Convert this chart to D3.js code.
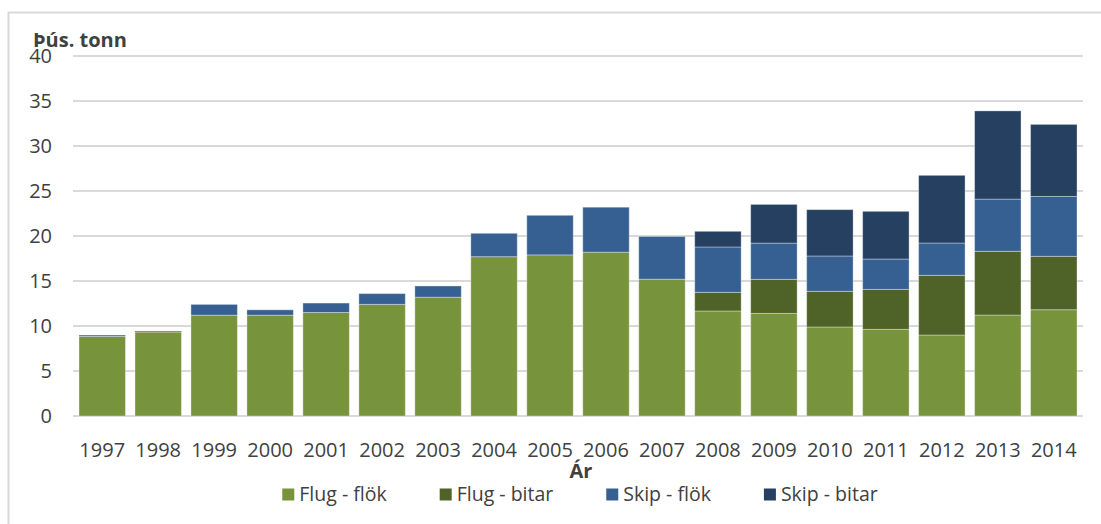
<!DOCTYPE html>
<html>
<head>
<meta charset="utf-8">
<script src="https://cdn.jsdelivr.net/npm/d3@7"></script>
<style>
  html, body { margin: 0; padding: 0; background: #fff; }
  svg { display: block; }
  text { font-family: "Open Sans", "Liberation Sans", sans-serif; fill: #404040; }
</style>
</head>
<body>
<svg id="chart" width="1101" height="524"></svg>
<script>
const years = ["1997","1998","1999","2000","2001","2002","2003","2004","2005","2006","2007","2008","2009","2010","2011","2012","2013","2014"];
const flugFlok  = [8.85, 9.33, 11.2, 11.2, 11.5, 12.4, 13.2, 17.7, 17.9, 18.2, 15.2, 11.67, 11.4, 9.89, 9.63, 9.0, 11.22, 11.81];
const flugBitar = [0, 0, 0, 0, 0, 0, 0, 0, 0, 0, 0, 2.07, 3.78, 3.96, 4.44, 6.63, 7.08, 5.93];
const skipFlok  = [0.15, 0.12, 1.2, 0.6, 1.05, 1.2, 1.25, 2.6, 4.4, 5.0, 4.75, 5.04, 4.03, 3.93, 3.37, 3.59, 5.8, 6.66];
const skipBitar = [0, 0, 0, 0, 0, 0, 0, 0, 0, 0, 0, 1.74, 4.3, 5.15, 5.3, 7.52, 9.8, 8.0];
const seriesNames = ["Flug - flök", "Flug - bitar", "Skip - flök", "Skip - bitar"];
const seriesColors = ["#77933C", "#4F6228", "#376092", "#254061"];
const yTicks = [0, 5, 10, 15, 20, 25, 30, 35, 40];
const yTitle = "Þús. tonn";
const xTitle = "Ár";

(function () {
const seriesValues = [flugFlok, flugBitar, skipFlok, skipBitar];
const table = years.map((yr, i) => {
  const row = { year: yr };
  seriesNames.forEach((n, k) => row[n] = seriesValues[k][i]);
  return row;
});

const svg = d3.select("#chart");
const pLeft = 73, pRight = 1083, pTop = 56, pBottom = 416;

// outer frame
svg.append("rect")
  .attr("x", 8.5).attr("y", 12.5).attr("width", 1200).attr("height", 600)
  .attr("fill", "none").attr("stroke", "#d9d9d9").attr("stroke-width", 2);

const x = d3.scaleBand().domain(years).range([pLeft, pRight]).paddingInner(0.17).paddingOuter(0.107);
const y = d3.scaleLinear().domain([0, 40]).range([pBottom, pTop]);

// gridlines
svg.append("g").selectAll("line").data(yTicks).join("line")
  .attr("x1", pLeft).attr("x2", pRight)
  .attr("y1", d => y(d)).attr("y2", d => y(d))
  .attr("stroke", "#d9d9d9").attr("stroke-width", 2);

// y axis labels
const yAxis = d3.axisLeft(y).tickValues(yTicks).tickSize(0).tickPadding(0);
const gy = svg.append("g").attr("transform", "translate(52,0)").call(yAxis);
gy.select(".domain").remove();
gy.selectAll("text").attr("font-size", 20).attr("fill", "#404040")
  .style("font-family", '"Open Sans", sans-serif');

// stacked bars
const stack = d3.stack().keys(seriesNames)(table);
svg.append("g").selectAll("g").data(stack).join("g")
  .attr("fill", (d, i) => seriesColors[i])
  .selectAll("rect").data(d => d.filter(s => s[1] - s[0] > 0)).join("rect")
  .attr("x", d => x(d.data.year))
  .attr("width", x.bandwidth())
  .attr("y", d => y(d[1]))
  .attr("height", d => y(d[0]) - y(d[1]))
  .attr("stroke", "rgba(255,255,255,0.35)")
  .attr("stroke-width", 1);

// x axis labels
const xAxis = d3.axisBottom(x).tickSize(0).tickPadding(0);
const gx = svg.append("g").attr("transform", `translate(0,${pBottom})`).call(xAxis);
gx.select(".domain").remove();
gx.selectAll("text").attr("font-size", 20).attr("fill", "#404040").attr("dy", null)
  .attr("y", 41)
  .style("font-family", '"Open Sans", sans-serif');

// titles
svg.append("text").attr("x", 33).attr("y", 47)
  .attr("font-size", 20).attr("font-weight", "bold").text(yTitle);
svg.append("text").attr("x", 581).attr("y", 478).attr("text-anchor", "middle")
  .attr("font-size", 20).attr("font-weight", "bold").text(xTitle);

// legend
const legend = svg.append("g");
const items = legend.selectAll("g").data(seriesNames).join("g");
items.append("rect").attr("width", 12).attr("height", 12).attr("y", 488.5)
  .attr("fill", (d, i) => seriesColors[i]);
items.append("text").attr("x", 17).attr("y", 501).attr("font-size", 19.5).text(d => d);
const widths = [];
items.each(function () { widths.push(17 + this.querySelector("text").getComputedTextLength()); });
const gap = 53;
const total = d3.sum(widths) + gap * (widths.length - 1);
let cx = 580 - total / 2;
items.each(function (d, i) {
  d3.select(this).attr("transform", `translate(${cx},0)`);
  cx += widths[i] + gap;
});
})();
</script>
</body>
</html>
